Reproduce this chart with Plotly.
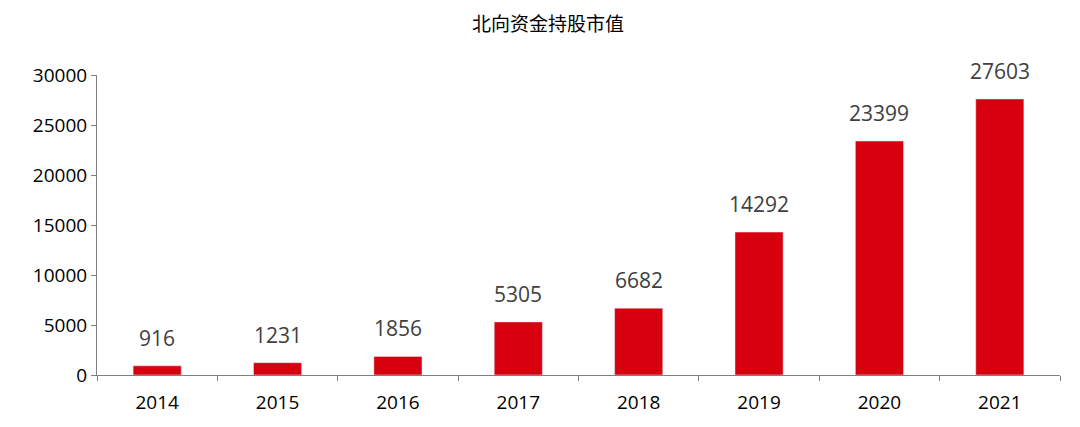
import plotly.graph_objects as go

# 北向资金持股市值
years = ["2014", "2015", "2016", "2017", "2018", "2019", "2020", "2021"]
values = [916, 1231, 1856, 5305, 6682, 14292, 23399, 27603]

fig = go.Figure(go.Bar(
    x=years, y=values,
    marker_color="#D7000F",
    width=0.4,
))

# 数据标签 (类别轴上用序号定位)
for i, v in enumerate(values):
    fig.add_annotation(x=i, y=v, text=str(v), showarrow=False,
                       yanchor="bottom", yshift=12,
                       font=dict(size=21, color="#404040", family="Open Sans"))

fig.update_layout(
    width=1080, height=427,
    title=dict(text="北向资金持股市值", x=0.5, xanchor="center",
               y=1, yanchor="top", pad=dict(t=10),
               font=dict(size=19, color="#000000", family="Noto Sans CJK SC")),
    font=dict(family="Open Sans, Noto Sans, sans-serif", color="#000000"),
    plot_bgcolor="white", paper_bgcolor="white",
    margin=dict(l=89, r=28, t=67, b=60),
    showlegend=False,
)
fig.update_yaxes(range=[0, 30000], dtick=5000, tickformat="d", showgrid=False,
                 automargin=False, showline=True, linecolor="#808080",
                 ticks="outside", ticklen=5, tickcolor="#808080",
                 tickfont=dict(size=19))
fig.update_xaxes(type="category", automargin=False, showline=True,
                 linecolor="#808080", ticks="outside", tickson="boundaries",
                 ticklen=5, tickcolor="#808080", ticklabelstandoff=10,
                 tickfont=dict(size=19))

fig.write_html("out.html")
